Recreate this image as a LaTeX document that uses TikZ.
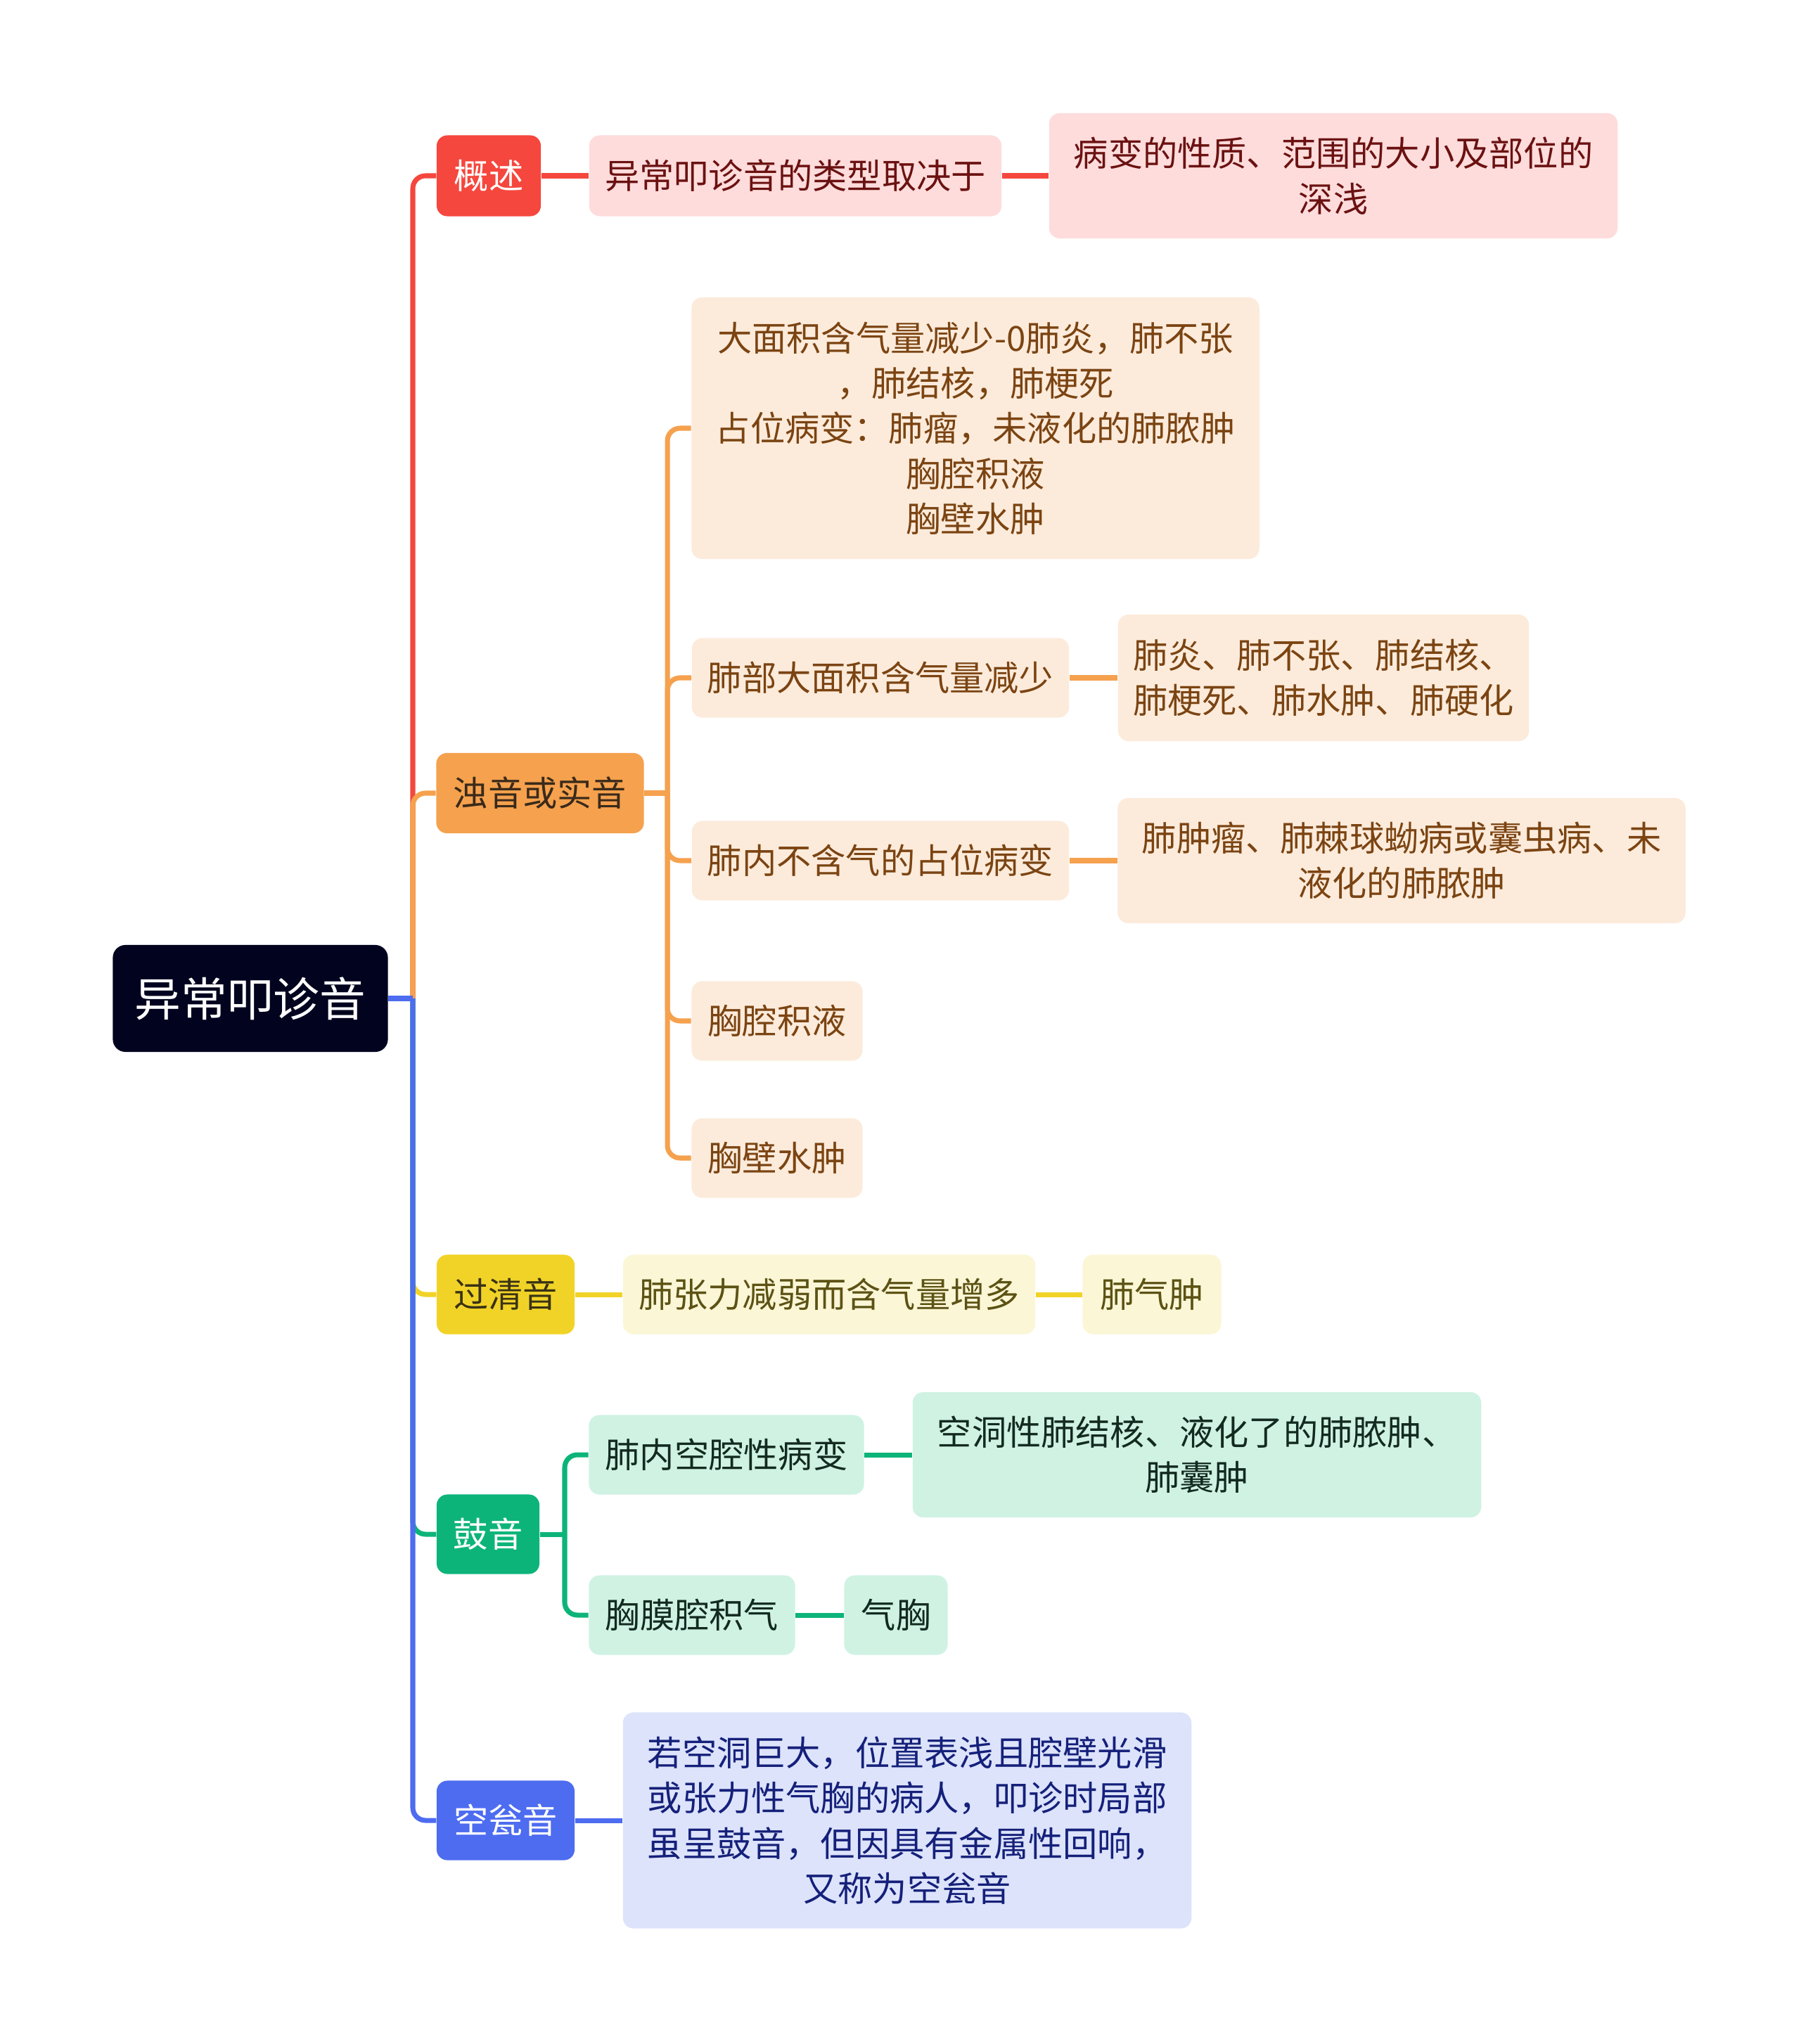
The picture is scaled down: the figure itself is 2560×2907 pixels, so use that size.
\documentclass[tikz,border=0pt]{standalone}
\usepackage{fontspec}
\newfontfamily\cjk{Noto Sans CJK SC}
\usetikzlibrary{positioning}

\definecolor{rootc}{HTML}{02041F}
\definecolor{redm}{HTML}{F5473E}
\definecolor{redl}{HTML}{FEDCDC}
\definecolor{redt}{HTML}{6B1111}
\definecolor{orm}{HTML}{F5A14E}
\definecolor{orl}{HTML}{FCEBDB}
\definecolor{ort}{HTML}{7B4412}
\definecolor{ortop}{HTML}{3A2A1A}
\definecolor{yem}{HTML}{F1D327}
\definecolor{yel}{HTML}{FBF6D6}
\definecolor{yet}{HTML}{5C5214}
\definecolor{yetop}{HTML}{3A3215}
\definecolor{grm}{HTML}{0DB47A}
\definecolor{grl}{HTML}{CFF2E3}
\definecolor{grt}{HTML}{132A20}
\definecolor{blm}{HTML}{4D6CF0}
\definecolor{bll}{HTML}{DCE3FB}
\definecolor{blt}{HTML}{15207A}

\begin{document}
\begin{tikzpicture}[x=0.01cm, y=-0.01cm,
  box/.style={rectangle, rounded corners=0.15cm, align=center, inner sep=0pt,
              font=\cjk\fontsize{14pt}{18.3pt}\selectfont},
  rootbox/.style={box, fill=rootc, text=white, rounded corners=0.18cm,
                  font=\cjk\fontsize{18.7pt}{22pt}\selectfont},
  redtop/.style={box, fill=redm, text=white},
  redsub/.style={box, fill=redl, text=redt},
  ortop/.style={box, fill=orm, text=ortop},
  orsub/.style={box, fill=orl, text=ort},
  yetop/.style={box, fill=yem, text=yetop},
  yesub/.style={box, fill=yel, text=yet},
  grtop/.style={box, fill=grm, text=white},
  grsub/.style={box, fill=grl, text=grt},
  bltop/.style={box, fill=blm, text=white},
  blsub/.style={box, fill=bll, text=blt},
  link/.style={line width=2pt, rounded corners=0.18cm}
]
\useasboundingbox (0,0) rectangle (2560,2907);

% root and first level
\node[rootbox, minimum width=3.91cm, minimum height=1.52cm] (root) at (356,1420) {异常叩诊音};
\coordinate (spine) at (587,1420);

\node[redtop, minimum width=1.48cm, minimum height=1.15cm] (gaishu) at (695,250) {概述};
\node[ortop, minimum width=2.95cm, minimum height=1.14cm] (zhuo) at (768,1128) {浊音或实音};
\node[yetop, minimum width=1.96cm, minimum height=1.13cm] (guoq) at (719,1841) {过清音};
\node[grtop, minimum width=1.46cm, minimum height=1.13cm] (guyin) at (694,2182) {鼓音};
\node[bltop, minimum width=1.96cm, minimum height=1.13cm] (kongw) at (719,2589) {空瓮音};

% 概述
\node[redsub, minimum width=5.86cm, minimum height=1.15cm] (gaishuA) at (1131,250) {异常叩诊音的类型取决于};
\node[redsub, minimum width=8.08cm, minimum height=1.78cm] (gaishuB) at (1896,250)
  {病变的性质、范围的大小及部位的\\深浅};

% 浊音或实音
\coordinate (zspine) at (949,1128);
\node[orsub, minimum width=8.07cm, minimum height=3.72cm] (zhuoA) at (1387,609)
  {大面积含气量减少-0肺炎，肺不张\\，肺结核，肺梗死\\占位病变：肺瘤，未液化的肺脓肿\\胸腔积液\\胸壁水肿};
\node[orsub, minimum width=5.36cm, minimum height=1.13cm] (zhuoB) at (1252,964) {肺部大面积含气量减少};
\node[orsub, minimum width=5.84cm, minimum height=1.80cm] (zhuoB1) at (1882,964)
  {肺炎、肺不张、肺结核、\\肺梗死、肺水肿、肺硬化};
\node[orsub, minimum width=5.36cm, minimum height=1.13cm] (zhuoC) at (1252,1224) {肺内不含气的占位病变};
\node[orsub, minimum width=8.07cm, minimum height=1.78cm] (zhuoC1) at (1993,1224)
  {肺肿瘤、肺棘球蚴病或囊虫病、未\\液化的肺脓肿};
\node[orsub, minimum width=2.43cm, minimum height=1.13cm] (zhuoD) at (1105,1452) {胸腔积液};
\node[orsub, minimum width=2.43cm, minimum height=1.13cm] (zhuoE) at (1105,1647) {胸壁水肿};

% 过清音
\node[yesub, minimum width=5.86cm, minimum height=1.13cm] (guoqA) at (1179,1841) {肺张力减弱而含气量增多};
\node[yesub, minimum width=1.97cm, minimum height=1.13cm] (guoqB) at (1638,1841) {肺气肿};

% 鼓音
\coordinate (gspine) at (803,2182);
\node[grsub, minimum width=3.91cm, minimum height=1.13cm] (guyinA) at (1033,2069) {肺内空腔性病变};
\node[grsub, minimum width=8.08cm, minimum height=1.78cm] (guyinA1) at (1702,2069)
  {空洞性肺结核、液化了的肺脓肿、\\肺囊肿};
\node[grsub, minimum width=2.93cm, minimum height=1.13cm] (guyinB) at (984,2297) {胸膜腔积气};
\node[grsub, minimum width=1.47cm, minimum height=1.13cm] (guyinB1) at (1274,2297) {气胸};

% 空瓮音
\node[blsub, minimum width=8.08cm, minimum height=3.07cm] (kongwA) at (1290,2589)
  {若空洞巨大，位置表浅且腔壁光滑\\或张力性气胸的病人，叩诊时局部\\虽呈鼓音，但因具有金属性回响，\\又称为空瓮音};

% connectors
\draw[link, redm] (spine) |- (gaishu.west);
\draw[link, redm] (gaishu) -- (gaishuA);
\draw[link, redm] (gaishuA) -- (gaishuB);

\draw[link, orm] (spine) |- (zhuo.west);
\draw[link, orm] (zhuo.east) -- (zspine);
\foreach \c in {zhuoA,zhuoB,zhuoC,zhuoD,zhuoE}
  \draw[link, orm] (zspine) |- (\c.west);
\draw[link, orm] (zhuoB) -- (zhuoB1);
\draw[link, orm] (zhuoC) -- (zhuoC1);

\draw[link, yem] (spine) |- (guoq.west);
\draw[link, yem] (guoq) -- (guoqA);
\draw[link, yem] (guoqA) -- (guoqB);

\draw[link, grm] (spine) |- (guyin.west);
\draw[link, grm] (guyin.east) -- (gspine);
\draw[link, grm] (gspine) |- (guyinA.west);
\draw[link, grm] (gspine) |- (guyinB.west);
\draw[link, grm] (guyinA) -- (guyinA1);
\draw[link, grm] (guyinB) -- (guyinB1);

\draw[link, blm] (spine) |- (kongw.west);
\draw[link, blm] (kongw) -- (kongwA);
\draw[link, blm] (root.east) -- (spine);

\end{tikzpicture}
\end{document}
